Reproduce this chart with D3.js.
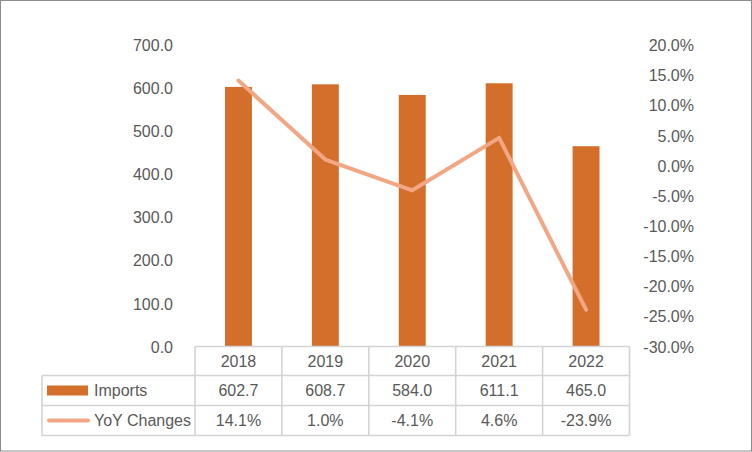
<!DOCTYPE html>
<html><head><meta charset="utf-8">
<script src="https://cdn.jsdelivr.net/npm/d3@7"></script>
<style>body{margin:0;background:#fff}svg{display:block}text{font-family:"Liberation Sans",Arial,sans-serif;fill:#595959}</style>
</head><body>
<svg id="c" width="752" height="452"></svg>
<script>
const years = ["2018","2019","2020","2021","2022"];
const imports = [602.7,608.7,584.0,611.1,465.0];
const yoy = [14.1,1.0,-4.1,4.6,-23.9];
const leftTicks = [0,100,200,300,400,500,600,700];
const rightTicks = [-30,-25,-20,-15,-10,-5,0,5,10,15,20];
const seriesNames = ["Imports","YoY Changes"];

const barColor = "#D36F2B", lineColor = "#F2A683", gridColor = "#D4D4D4";
const svg = d3.select("#c");
svg.append("rect").attr("x",0.5).attr("y",0.5).attr("width",751).attr("height",450.5).attr("fill","#fff").attr("stroke","#8C8C8C");

const x = d3.scaleBand().domain(years).range([195,629.5]);
const y = d3.scaleLinear().domain([0,700]).range([346.5,45]);
const y2 = d3.scaleLinear().domain([-30,20]).range([346.5,45]);

// left axis
const la = svg.append("g").attr("transform","translate(173,0)").call(d3.axisLeft(y).tickValues(leftTicks).tickFormat(d3.format(".1f")).tickSize(0).tickPadding(0));
la.select(".domain").remove();
la.selectAll("text").attr("font-size",16).style("font-family",null).attr("dy","0.35em").attr("fill","#595959");
// right axis
const ra = svg.append("g").attr("transform","translate(694,0)").call(d3.axisLeft(y2).tickValues(rightTicks).tickFormat(d=>d.toFixed(1)+"%").tickSize(0).tickPadding(0));
ra.select(".domain").remove();
ra.selectAll("text").attr("font-size",16).style("font-family",null).attr("dy","0.35em").attr("fill","#595959");

// bars
const bw = x.bandwidth()*0.31;
svg.append("g").selectAll("rect").data(imports).join("rect")
 .attr("x",(d,i)=>x(years[i])+x.bandwidth()/2-bw/2).attr("width",bw)
 .attr("y",d=>y(d)).attr("height",d=>y(0)-y(d)).attr("fill",barColor);

// line
const line = d3.line().x((d,i)=>x(years[i])+x.bandwidth()/2).y(d=>y2(d));
svg.append("path").datum(yoy).attr("d",line).attr("fill","none").attr("stroke",lineColor).attr("stroke-width",4).attr("stroke-linejoin","round").attr("stroke-linecap","round");

// data table
const rows = [346.5,375.5,405.5,435.5];
const tl = 42, tx0 = 195, tx1 = 629.5;
const g = svg.append("g").attr("stroke",gridColor).attr("stroke-width",1.6);
g.append("line").attr("x1",tx0).attr("x2",tx1).attr("y1",rows[0]).attr("y2",rows[0]);
[1,2,3].forEach(i=>g.append("line").attr("x1",tl).attr("x2",tx1).attr("y1",rows[i]).attr("y2",rows[i]));
g.append("line").attr("x1",tl).attr("x2",tl).attr("y1",rows[1]).attr("y2",rows[3]);
years.forEach(yr=>g.append("line").attr("x1",x(yr)).attr("x2",x(yr)).attr("y1",rows[0]).attr("y2",rows[3]));
g.append("line").attr("x1",tx1).attr("x2",tx1).attr("y1",rows[0]).attr("y2",rows[3]);

const cx = yr=>x(yr)+x.bandwidth()/2;
const mid = i=>(rows[i]+rows[i+1])/2;
svg.append("g").selectAll("text").data(years).join("text").attr("x",cx).attr("y",mid(0)).attr("dy","0.35em").attr("text-anchor","middle").attr("font-size",16).text(d=>d);
svg.append("g").selectAll("text").data(imports).join("text").attr("x",(d,i)=>cx(years[i])).attr("y",mid(1)).attr("dy","0.35em").attr("text-anchor","middle").attr("font-size",16).text(d=>d.toFixed(1));
svg.append("g").selectAll("text").data(yoy).join("text").attr("x",(d,i)=>cx(years[i])).attr("y",mid(2)).attr("dy","0.35em").attr("text-anchor","middle").attr("font-size",16).text(d=>d.toFixed(1)+"%");

// legend keys
svg.append("rect").attr("x",47).attr("y",mid(1)-5).attr("width",41).attr("height",10).attr("fill",barColor);
svg.append("line").attr("x1",49).attr("x2",88).attr("y1",mid(2)).attr("y2",mid(2)).attr("stroke",lineColor).attr("stroke-width",4).attr("stroke-linecap","round");
svg.append("text").attr("x",94).attr("y",mid(1)).attr("dy","0.35em").attr("font-size",16).text(seriesNames[0]);
svg.append("text").attr("x",94).attr("y",mid(2)).attr("dy","0.35em").attr("font-size",16).text(seriesNames[1]);
</script>
</body></html>
